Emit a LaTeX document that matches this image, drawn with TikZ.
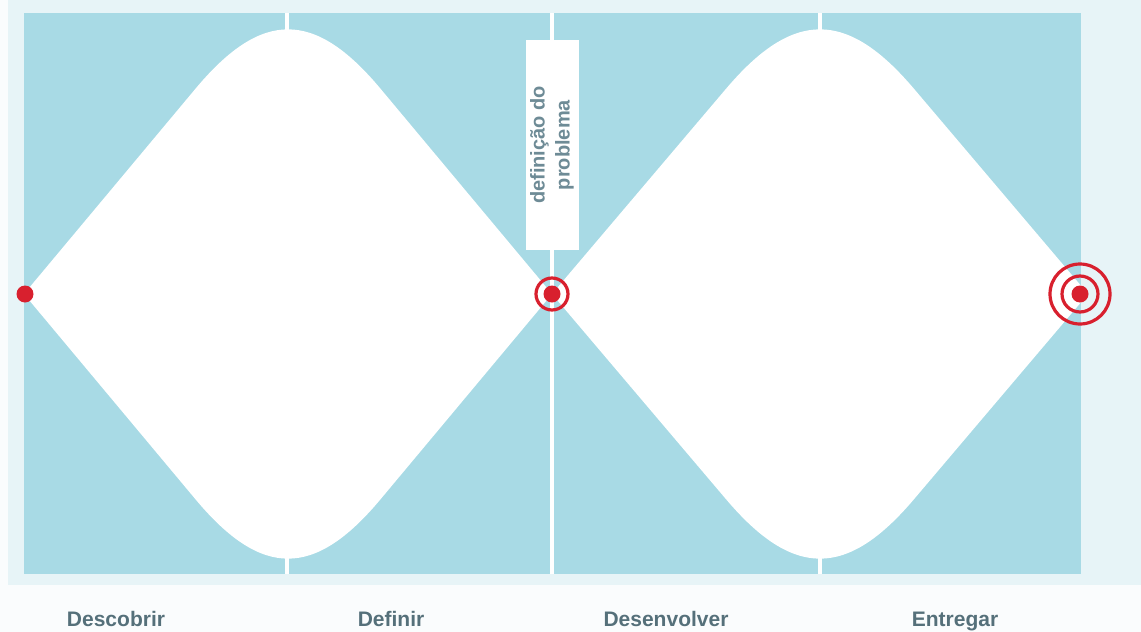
\documentclass[tikz,border=0pt]{standalone}
\usepackage{fontspec}
\setmainfont{Liberation Sans}
\usepackage{tikz}
\usetikzlibrary{calc,positioning}
\definecolor{pagewhite}{HTML}{FAFCFD}
\definecolor{palebg}{HTML}{E7F4F7}
\definecolor{phaseblue}{HTML}{A8DAE5}
\definecolor{dotred}{HTML}{D8202E}
\definecolor{labelgrey}{HTML}{55707A}
\definecolor{boxgrey}{HTML}{6E8B96}

\begin{document}
\begin{tikzpicture}[
  x=1pt,y=-1pt,
  font=\bfseries,
  dot/.style={circle,fill=dotred,minimum size=17pt,inner sep=0pt},
  ring/.style={circle,draw=dotred,line width=3.2pt,inner sep=0pt},
  labelbox/.style={fill=white,rotate=90,align=center,text=boxgrey,minimum width=210pt,minimum height=53pt,inner sep=0pt,font=\fontsize{20}{25}\selectfont\bfseries},
  phase/.style={text=labelgrey,anchor=base,font=\fontsize{21}{24}\selectfont\bfseries}
]
\useasboundingbox (0,0) rectangle (1141,632);
\fill[pagewhite] (0,0) rectangle (1141,632);
\fill[palebg] (8,0) rectangle (1141,585);
\fill[phaseblue] (24,13) rectangle (1081,574);

% dividers
\foreach \xd in {287,552,820}
  \draw[white,line width=3.5pt] (\xd,13) -- (\xd,574);

% the two diamonds
\begin{scope}
\clip (24,13) rectangle (1081,574);
\foreach \cx/\w [count=\i] in {288/264,820/268} {
  \coordinate (l\i) at (\cx-\w,294);
  \coordinate (t\i) at (\cx,-22);
  \coordinate (r\i) at (\cx+\w,294);
  \coordinate (b\i) at (\cx,610);
  \fill[white] (l\i) -- ($(l\i)!0.65!(t\i)$)
    .. controls ($(l\i)!0.9!(t\i)$) and ($(r\i)!0.9!(t\i)$) .. ($(r\i)!0.65!(t\i)$)
    -- (r\i) -- ($(r\i)!0.65!(b\i)$)
    .. controls ($(r\i)!0.9!(b\i)$) and ($(l\i)!0.9!(b\i)$) .. ($(l\i)!0.65!(b\i)$)
    -- cycle;
}
\end{scope}

\node[labelbox] (defbox) at (552,145) {definição do\\problema};

% dots and rings
\node[dot] (start) at (25,294) {};
\node[ring,minimum size=32pt] (midring) at (552,294) {};
\node[dot] (mid) at (552,294) {};
\node[ring,minimum size=60pt] (endouter) at (1080,294) {};
\node[ring,minimum size=36pt] (endinner) at (1080,294) {};
\node[dot] (finish) at (1080,294) {};

% phase names
\node[phase] (discover) at (116,626) {Descobrir};
\node[phase] (define) at (391,626) {Definir};
\node[phase] (develop) at (666,626) {Desenvolver};
\node[phase] (deliver) at (955,626) {Entregar};
\end{tikzpicture}
\end{document}
